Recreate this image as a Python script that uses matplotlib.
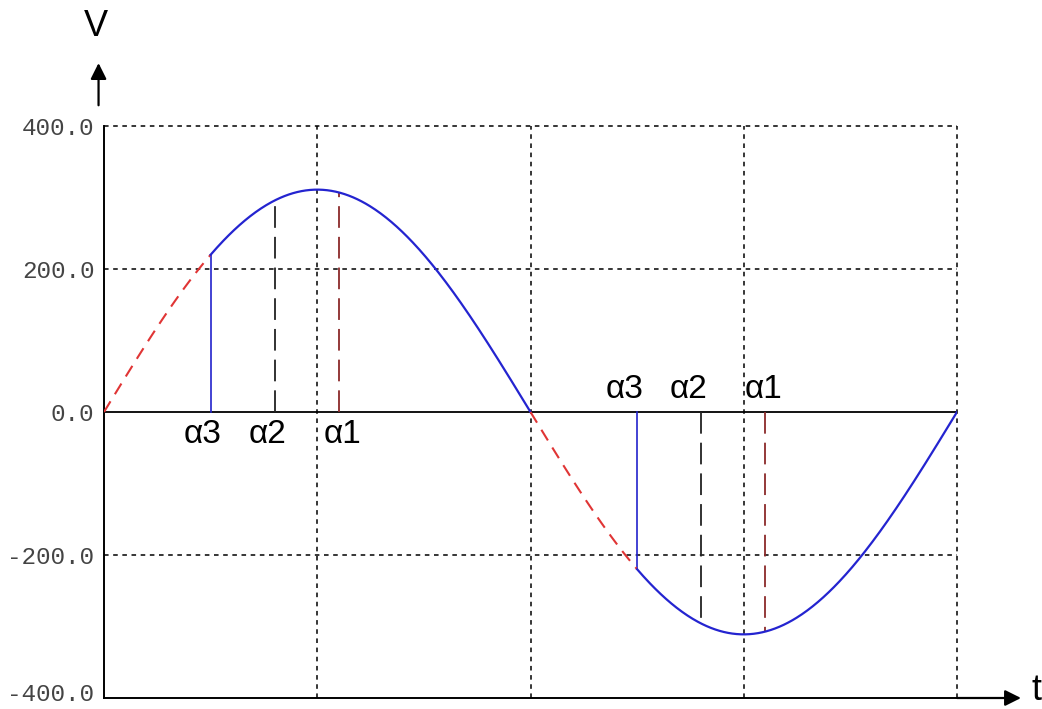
import numpy as np
import matplotlib.pyplot as plt
import matplotlib.transforms as mtransforms

# waveform parameters
v_peak = 311.0
alphas = [45, 72, 99]          # alpha3, alpha2, alpha1 (degrees)
alpha_names = ["α3", "α2", "α1"]
alpha_styles = [
    dict(color="#2222cc", linestyle="-", linewidth=1.2),
    dict(color="#222222", linestyle=(0, (12, 5)), linewidth=1.3),
    dict(color="#8b2a2a", linestyle=(0, (12, 5)), linewidth=1.3),
]
y_ticks = [-400.0, -200.0, 0.0, 200.0, 400.0]
x_grid = [90, 180, 270, 360]

blue = "#2424d0"
red = "#e03535"


def wave(deg):
    return v_peak * np.sin(np.radians(deg))


fig = plt.figure(figsize=(10.42, 7.09), dpi=100)
ax = fig.add_axes([104 / 1042, 11 / 709, 853 / 1042, 572 / 709])
ax.set_xlim(0, 360)
ax.set_ylim(-400, 400)

# dotted grid
for x in x_grid:
    ax.axvline(x, color="black", linestyle=(0, (3, 3)), linewidth=1.1,
               zorder=1, clip_on=False)
for y in [200, -200, 400]:
    ax.axhline(y, color="black", linestyle=(0, (3, 3)), linewidth=1.1,
               zorder=1, clip_on=False)
ax.axhline(0, color="black", linewidth=1.3, zorder=2)

# firing angle alpha3 splits each half cycle: dashed red before, solid blue after
a3 = alphas[0]
for start in (0, 180):
    t = np.linspace(start, start + a3, 60)
    ax.plot(t, wave(t), color=red, linestyle=(0, (6, 4)), linewidth=1.5, zorder=3)
    t = np.linspace(start + a3, start + 180, 300)
    ax.plot(t, wave(t), color=blue, linewidth=1.6, zorder=3)

# vertical markers from zero up to the curve
for a, name, st in zip(alphas, alpha_names, alpha_styles):
    for start in (0, 180):
        ax.plot([start + a, start + a], [0, wave(start + a)], zorder=2, **st)

label_font = dict(family="Liberation Sans", fontsize=24, color="black")
offsets = [-3.5, -3.2, 1.5]
for a, name, dx in zip(alphas, alpha_names, offsets):
    ax.text(a + dx, -10, name, ha="center", va="top", **label_font)
    ax.text(180 + a + dx - 2, 10, name, ha="center", va="bottom", **label_font)

# axes frame: solid left/bottom, dotted top/right come from the grid
for side in ("top", "right"):
    ax.spines[side].set_visible(False)
ax.spines["left"].set_linewidth(1.4)
ax.spines["bottom"].set_linewidth(1.4)

ax.set_xticks([])
ax.set_yticks(y_ticks)
ax.set_yticklabels([f"{v:.1f}" for v in y_ticks], family="Liberation Mono",
                   fontsize=17.5, color="#444444")
ax.tick_params(axis="y", length=0, pad=7)
# keep the bottom label inside the canvas
bottom_lbl = ax.get_yticklabels()[0]
bottom_lbl.set_transform(bottom_lbl.get_transform() +
                         mtransforms.ScaledTranslation(0, 4 / 72, fig.dpi_scale_trans))

# axis arrows and names
arrow = dict(arrowstyle="-|>", color="black", lw=1.6,
             mutation_scale=24, shrinkA=0, shrinkB=0)
ax.annotate("", xy=(-2.3, 488), xytext=(-2.3, 429),
            annotation_clip=False, arrowprops=arrow)
ax.annotate("", xy=(387, -400), xytext=(360, -400),
            annotation_clip=False, arrowprops=arrow)
fig.text(96 / 1042, 1 - 27 / 709, "V", ha="center", va="center",
         family="Liberation Sans", fontsize=26)
fig.text(1036 / 1042, 1 - 690 / 709, "t", ha="center", va="center",
         family="Liberation Sans", fontsize=26)

fig.savefig("out.png", dpi=100, facecolor="white")
